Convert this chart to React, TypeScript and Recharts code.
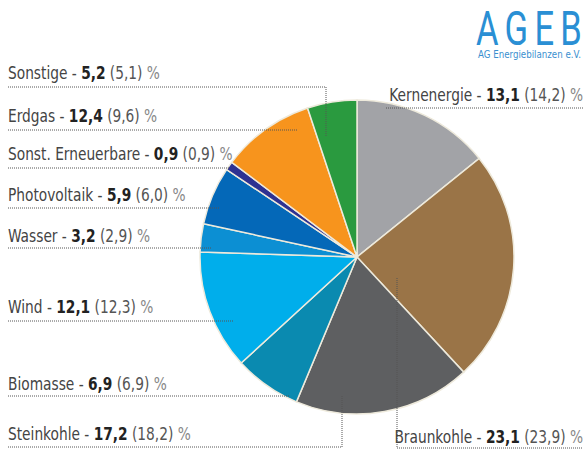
import React from 'react';
import { PieChart, Pie, Cell } from 'recharts';

const categories = ['Kernenergie', 'Braunkohle', 'Steinkohle', 'Biomasse', 'Wind', 'Wasser', 'Photovoltaik', 'Sonst. Erneuerbare', 'Erdgas', 'Sonstige'];
const shareCurrent = [13.1, 23.1, 17.2, 6.9, 12.1, 3.2, 5.9, 0.9, 12.4, 5.2];
const sharePrevious = [14.2, 23.9, 18.2, 6.9, 12.3, 2.9, 6.0, 0.9, 9.6, 5.1];
const colors = ['#a2a3a7', '#9a7447', '#5e5f61', '#0a8ab0', '#00aeeb', '#0c8fd3', '#0468b8', '#2e3192', '#f7941d', '#2a9a3f'];

// label layout: text anchor position and leader line polyline
const labelLayout: { x: number; y: number; anchor: 'start' | 'end'; line: [number, number][] }[] = [
  { x: 583, y: 101, anchor: 'end', line: [[583, 108], [385, 108]] },
  { x: 583, y: 443, anchor: 'end', line: [[582, 448], [397, 448], [397, 278]] },
  { x: 8, y: 440, anchor: 'start', line: [[8, 447], [342, 447], [342, 395]] },
  { x: 8, y: 390, anchor: 'start', line: [[8, 396], [290, 396]] },
  { x: 8, y: 313, anchor: 'start', line: [[8, 321], [233, 321]] },
  { x: 8, y: 242, anchor: 'start', line: [[8, 248], [211, 248]] },
  { x: 8, y: 201, anchor: 'start', line: [[8, 208], [220, 208]] },
  { x: 8, y: 160, anchor: 'start', line: [[8, 168], [230, 168]] },
  { x: 8, y: 122, anchor: 'start', line: [[8, 130], [297, 130]] },
  { x: 8, y: 79, anchor: 'start', line: [[8, 87], [326, 87], [326, 137]] },
];

const data = categories.map((name, i) => ({ name, value: shareCurrent[i], prev: sharePrevious[i] }));

const fmt = (v: number) => v.toFixed(1).replace('.', ',');
const FONT = "'Liberation Sans Narrow', 'DejaVu Sans Condensed', sans-serif";

const renderLabel = (props: any) => {
  const i = props.index as number;
  const L = labelLayout[i];
  if (!L) return null;
  const d = L.line.map((p, k) => `${k === 0 ? 'M' : 'L'}${p[0]},${p[1]}`).join(' ');
  return (
    <g key={`lbl-${i}`}>
      <path d={d} fill="none" stroke="#555" strokeWidth={1} strokeDasharray="1 1" />
      <text x={0} y={0} transform={`translate(${L.x},${L.y}) scale(0.9,1)`} textAnchor={L.anchor} fontFamily={FONT} fontSize={17}>
        <tspan fill="#444">{categories[i]} - </tspan>
        <tspan fill="#222" fontWeight={700}>{fmt(shareCurrent[i])}</tspan>
        <tspan fill="#555">{' (' + fmt(sharePrevious[i]) + ') '}</tspan>
        <tspan fill="#888">%</tspan>
      </text>
    </g>
  );
};

export default function App() {
  return (
    <div style={{ position: 'absolute', left: 0, top: 0, width: 586, height: 449, background: '#fff' }}>
      <svg width={586} height={449} style={{ position: 'absolute', left: 0, top: 0 }}>
        <text x={0} y={0} transform="translate(476,45) scale(0.72,1)" fontFamily="Roboto, 'DejaVu Sans', sans-serif" fontWeight={400} fontSize={48} fill="#2a8fd4" textLength={147} lengthAdjust="spacing">AGEB</text>
        <text x={478} y={58} fontFamily={FONT} fontSize={10} fill="#3a8fcf" textLength={103} lengthAdjust="spacingAndGlyphs">AG Energiebilanzen e.V.</text>
      </svg>
      <div style={{ position: 'absolute', left: 0, top: 0 }}>
        <PieChart width={586} height={449} margin={{ top: 0, right: 0, bottom: 0, left: 0 }}>
          <Pie
            data={data}
            dataKey="prev"
            nameKey="name"
            cx={357}
            cy={257}
            outerRadius={157}
            startAngle={90}
            endAngle={-270}
            stroke="#eeeadc"
            strokeWidth={1.5}
            isAnimationActive={false}
            label={renderLabel}
            labelLine={false}
          >
            {data.map((d, i) => (
              <Cell key={d.name} fill={colors[i]} />
            ))}
          </Pie>
        </PieChart>
      </div>
    </div>
  );
}
